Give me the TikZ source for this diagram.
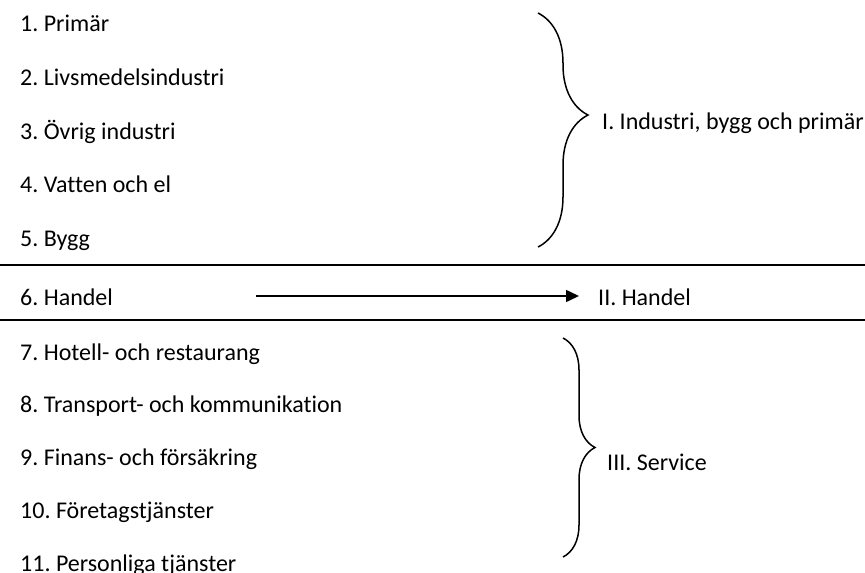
\documentclass[tikz,border=0pt]{standalone}
\usepackage{fontspec}
\setmainfont{Carlito}[Ligatures={NoCommon}]
\usetikzlibrary{arrows.meta,decorations.pathreplacing}

\tikzset{
  item/.style={anchor=base west, inner sep=0pt, font=\fontsize{24}{29}\selectfont},
  group/.style={anchor=base west, inner sep=0pt, font=\fontsize{24}{29}\selectfont},
  sepline/.style={line width=2pt},
  grpbrace/.style={line width=1.5pt, decorate},
  flow/.style={line width=1.5pt, -{Triangle[length=13pt,width=12pt]}}
}

\begin{document}
\frenchspacing
\begin{tikzpicture}[x=1pt,y=-1pt]
  \useasboundingbox (0,0) rectangle (865,573);

  %% Industry items
  \node[item] (s1) at (20,31) {1. Primär};
  \node[item] (s2) at (20,85) {2. Livsmedelsindustri};
  \node[item] (s3) at (20,139) {3. Övrig industri};
  \node[item] (s4) at (20,192) {4. Vatten och el};
  \node[item] (s5) at (20,246) {5. Bygg};

  %% Industry group
  \coordinate (b1top) at (538,13);
  \coordinate (b1bot) at (538,247);
  \draw[grpbrace, decoration={brace, amplitude=50pt, aspect=0.436}] (b1top) -- (b1bot);
  \node[group] (g1) at (602,129) {I. Industri, bygg och primär};

  %% Separators
  \coordinate (l1a) at (0,265);
  \coordinate (l1b) at (865,265);
  \coordinate (l2a) at (0,320);
  \coordinate (l2b) at (865,320);
  \draw[sepline] (l1a) -- (l1b);
  \draw[sepline] (l2a) -- (l2b);

  %% Trade
  \node[item] (s6) at (20,305) {6. Handel};
  \node[group] (g2) at (598,305) {II. Handel};
  \coordinate (astart) at (256,296);
  \draw[flow] (astart) -- ([xshift=-19pt]g2.west |- astart);

  %% Service items
  \node[item] (s7) at (20,360) {7. Hotell- och restaurang};
  \node[item] (s8) at (20,412) {8. Transport- och kommunikation};
  \node[item] (s9) at (20,465) {9. Finans- och försäkring};
  \node[item] (s10) at (20,518) {10. Företagstjänster};
  \node[item] (s11) at (20,571) {11. Personliga tjänster};

  %% Service group
  \coordinate (b2top) at (563,338);
  \coordinate (b2bot) at (563,557);
  \draw[grpbrace, decoration={brace, amplitude=32pt}] (b2top) -- (b2bot);
  \node[group] (g3) at (607,470) {III. Service};
\end{tikzpicture}
\end{document}
